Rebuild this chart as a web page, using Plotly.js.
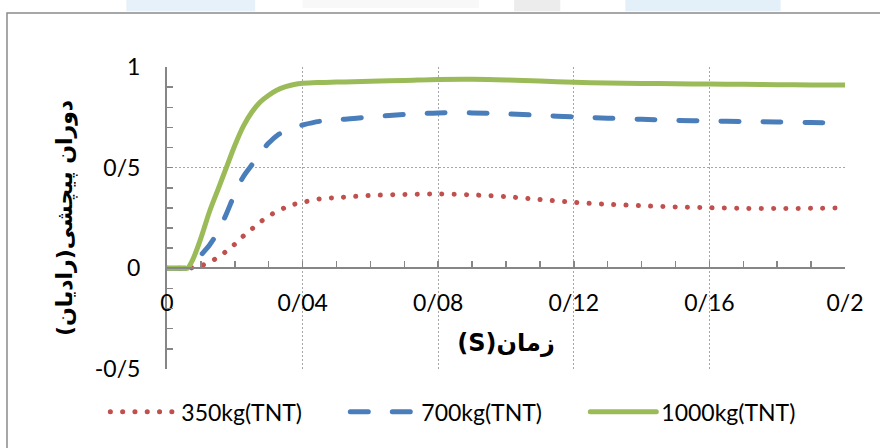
<!DOCTYPE html>
<html>
<head>
<meta charset="utf-8">
<script src="https://cdn.plot.ly/plotly-3.0.1.min.js"></script>
<style>
  html, body { margin: 0; padding: 0; background: #ffffff; }
  #chart { width: 880px; height: 448px; }
  /* rounded ends give the dotted / dashed strokes their look */
  .scatterlayer .js-line, .legend .js-line { stroke-linecap: round; }
</style>
</head>
<body>
<div id="chart"></div>
<script>
// time (s)
const time = [0, 0.0055, 0.006, 0.0075, 0.01, 0.0125, 0.015, 0.0175, 0.02, 0.0225, 0.025,
              0.0275, 0.03, 0.0325, 0.035, 0.0375, 0.04, 0.045, 0.05, 0.055, 0.06,
              0.07, 0.08, 0.09, 0.1, 0.11, 0.12, 0.13, 0.14, 0.15, 0.16,
              0.17, 0.18, 0.19, 0.2];

// torsional rotation (rad) per charge mass
const rot350 = [0, 0, 0, 0.003, 0.013, 0.03, 0.055, 0.085, 0.12, 0.16, 0.195,
                0.23, 0.26, 0.283, 0.303, 0.318, 0.328, 0.345, 0.351, 0.357, 0.362,
                0.367, 0.369, 0.365, 0.356, 0.342, 0.328, 0.318, 0.311, 0.305, 0.301,
                0.298, 0.297, 0.298, 0.3];
const rot700 = [0, 0, 0, 0.01, 0.065, 0.115, 0.18, 0.27, 0.37, 0.455, 0.513,
                0.575, 0.622, 0.66, 0.683, 0.7, 0.712, 0.73, 0.738, 0.744, 0.752,
                0.764, 0.772, 0.772, 0.767, 0.76, 0.752, 0.746, 0.74, 0.735, 0.732,
                0.729, 0.727, 0.724, 0.722];
const rot1000 = [0, 0, 0, 0.04, 0.15, 0.28, 0.39, 0.5, 0.61, 0.705, 0.775,
                 0.826, 0.86, 0.886, 0.902, 0.913, 0.919, 0.923, 0.925, 0.927, 0.929,
                 0.933, 0.938, 0.939, 0.936, 0.93, 0.924, 0.921, 0.918, 0.917, 0.915,
                 0.914, 0.912, 0.911, 0.91];

const seriesNames = ['350kg(TNT)', '700kg(TNT)', '1000kg(TNT)'];

const xTickVals = [0, 0.04, 0.08, 0.12, 0.16, 0.2];
const xTickText = ['0', '0/04', '0/08', '0/12', '0/16', '0/2'];
const yTickVals = [-0.5, 0, 0.5, 1];
const yTickText = ['-0/5', '0', '0/5', '1'];

const xTitle = '\u202Bزمان(S)\u202C';
const yTitle = '\u202Bدوران پیچشی(رادیان)\u202C';

const axisGray = '#868686';
const gridGray = '#a6a6a6';
const fontFamily = 'Lato, "DejaVu Sans", sans-serif';
const titleFamily = '"DejaVu Sans", sans-serif';

const traces = [
  { x: time, y: rot350, name: seriesNames[0], type: 'scatter', mode: 'lines',
    line: { color: '#c0504d', width: 5, dash: '0.1px,12.2px', shape: 'spline', smoothing: 0.9 } },
  { x: time, y: rot700, name: seriesNames[1], type: 'scatter', mode: 'lines',
    line: { color: '#4a7ebb', width: 5, dash: '18px,24px', shape: 'spline', smoothing: 0.9 } },
  { x: time, y: rot1000, name: seriesNames[2], type: 'scatter', mode: 'lines',
    line: { color: '#9bbb59', width: 5, shape: 'spline', smoothing: 0.9 } }
];

const layout = {
  width: 880, height: 448,
  margin: { l: 167, r: 35, t: 67, b: 79 },
  paper_bgcolor: '#ffffff', plot_bgcolor: '#ffffff',
  font: { family: fontFamily, size: 23, color: '#000000' },
  showlegend: true,
  legend: {
    orientation: 'h', x: -0.091, xanchor: 'left', y: -0.142, yanchor: 'middle',
    font: { family: fontFamily, size: 23, color: '#000000' },
    itemwidth: 66, entrywidth: 159, entrywidthmode: 'pixels',
    bgcolor: 'rgba(0,0,0,0)', traceorder: 'normal'
  },
  xaxis: {
    range: [0, 0.2], anchor: 'free', position: 1 / 3,
    tickmode: 'array', tickvals: xTickVals, ticktext: xTickText,
    ticks: 'inside', ticklen: 6, tickwidth: 1.5, tickcolor: axisGray,
    ticklabelstandoff: 14,
    minor: { dtick: 0.01, ticks: 'inside', ticklen: 6, tickwidth: 1.5, tickcolor: axisGray, showgrid: false },
    showline: true, linecolor: axisGray, linewidth: 2,
    showgrid: true, gridcolor: gridGray, gridwidth: 1, griddash: '2px,2px',
    zeroline: false, automargin: false,
    tickfont: { family: fontFamily, size: 23, color: '#000000' },
    title: { text: '<b>' + xTitle + '</b>', standoff: 18,
             font: { family: titleFamily, size: 24, color: '#000000' } }
  },
  yaxis: {
    range: [-0.5, 1],
    tickmode: 'array', tickvals: yTickVals, ticktext: yTickText,
    ticks: 'inside', ticklen: 6, tickwidth: 1.5, tickcolor: axisGray,
    ticklabelstandoff: 20,
    minor: { dtick: 0.1, ticks: 'inside', ticklen: 6, tickwidth: 1.5, tickcolor: axisGray, showgrid: false },
    showline: true, linecolor: axisGray, linewidth: 2,
    showgrid: true, gridcolor: gridGray, gridwidth: 1, griddash: '2px,2px',
    zeroline: false, automargin: false,
    tickfont: { family: fontFamily, size: 23, color: '#000000' },
    title: { text: '<b>' + yTitle + '</b>', standoff: 16,
             font: { family: titleFamily, size: 22, color: '#000000' } }
  },
  shapes: [
    // outer chart frame
    { type: 'rect', xref: 'paper', yref: 'paper', x0: -0.236, x1: 1.07, y0: -0.32, y1: 1.179,
      line: { color: '#8a8a8a', width: 1.5 }, fillcolor: 'rgba(0,0,0,0)', layer: 'below' },
    // faint band above the frame
    { type: 'rect', xref: 'paper', yref: 'paper', x0: -0.06, x1: 0.13, y0: 1.185, y1: 1.23,
      line: { width: 0 }, fillcolor: 'rgba(200,225,245,0.45)', layer: 'below' },
    { type: 'rect', xref: 'paper', yref: 'paper', x0: 0.2, x1: 0.46, y0: 1.195, y1: 1.23,
      line: { width: 0 }, fillcolor: 'rgba(220,220,220,0.2)', layer: 'below' },
    { type: 'rect', xref: 'paper', yref: 'paper', x0: 0.512, x1: 0.58, y0: 1.185, y1: 1.23,
      line: { width: 0 }, fillcolor: 'rgba(200,200,200,0.35)', layer: 'below' },
    { type: 'rect', xref: 'paper', yref: 'paper', x0: 0.676, x1: 0.905, y0: 1.185, y1: 1.23,
      line: { width: 0 }, fillcolor: 'rgba(200,225,245,0.5)', layer: 'below' }
  ]
};

Plotly.newPlot('chart', traces, layout, { displayModeBar: false, staticPlot: true });
</script>
</body>
</html>
